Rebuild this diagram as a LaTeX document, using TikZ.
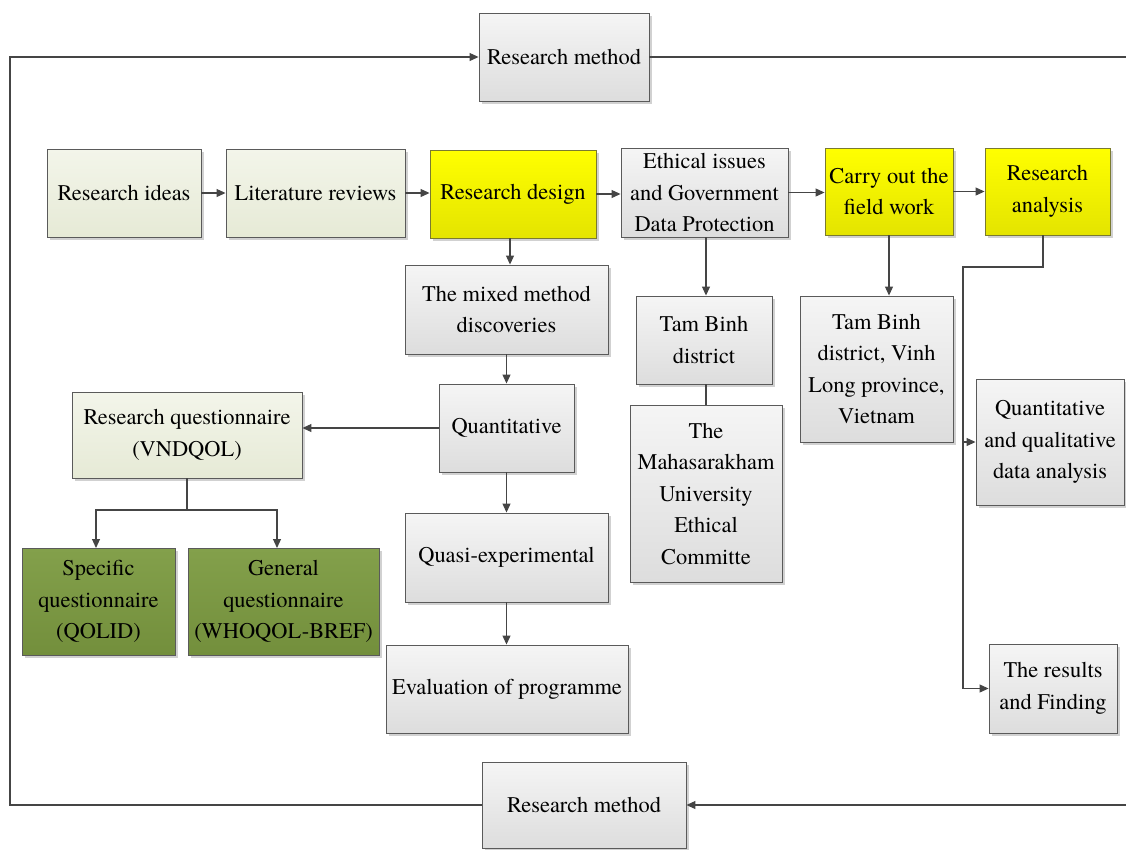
\documentclass[tikz,border=0pt]{standalone}
\usepackage{fontspec}
\setmainfont{TeX Gyre Termes}
\newfontfamily\tnr{TeX Gyre Termes}
\usetikzlibrary{arrows.meta,shadows,calc}
\definecolor{bordc}{HTML}{5A5A5A}
\definecolor{yelbord}{HTML}{7A7A30}
\definecolor{linec}{HTML}{454545}
\definecolor{grayT}{HTML}{F5F5F5}
\definecolor{grayB}{HTML}{DDDDDD}
\definecolor{ltgT}{HTML}{F3F5EA}
\definecolor{ltgB}{HTML}{E6EAD6}
\definecolor{yelT}{HTML}{FFFF00}
\definecolor{yelB}{HTML}{E4E400}
\definecolor{dkgT}{HTML}{83A04B}
\definecolor{dkgB}{HTML}{738F3C}
\tikzset{
  box/.style={draw=bordc, line width=0.9pt, align=center, inner sep=2pt,
    font=\tnr\fontsize{22.4}{31.5}\selectfont,
    drop shadow={shadow xshift=2.5pt, shadow yshift=-2.5pt, fill=black!18, opacity=1}},
  graybox/.style={box, top color=grayT, bottom color=grayB},
  ltgbox/.style={box, top color=ltgT, bottom color=ltgB},
  yelbox/.style={box, draw=yelbord, top color=yelT, bottom color=yelB},
  dkgbox/.style={box, top color=dkgT, bottom color=dkgB},
  conn/.style={draw=linec, line width=1.1pt},
  arr/.style={conn, -{Triangle[width=8pt,length=9pt]}},
}
\begin{document}
\begin{tikzpicture}[x=1pt,y=-1pt]
\useasboundingbox (0,0) rectangle (1126,849);
% top and bottom
\node[graybox, minimum width=170, minimum height=88] (rmtop) at (564,57) {Research method};
\node[graybox, minimum width=204, minimum height=86] (rmbot) at (584,805) {Research method};
% main row
\node[ltgbox, minimum width=154, minimum height=88] (ri) at (124,193) {Research ideas};
\node[ltgbox, minimum width=179, minimum height=88] (lr) at (315.5,193) {Literature reviews};
\node[yelbox, minimum width=166, minimum height=88] (rd) at (513,194) {Research design};
\node[graybox, minimum width=167, minimum height=89] (eth) at (704.5,192.5) {Ethical issues\\and Government\\Data Protection};
\node[yelbox, minimum width=128, minimum height=87] (co) at (889,191.5) {Carry out the\\field work};
\node[yelbox, minimum width=125, minimum height=87] (ra) at (1047.5,191.5) {Research\\analysis};
% column under design
\node[graybox, minimum width=203, minimum height=89] (mm) at (506.5,309.5) {The mixed method\\discoveries};
\node[graybox, minimum width=135, minimum height=88] (qn) at (506.5,428) {Quantitative};
\node[graybox, minimum width=203, minimum height=89] (qe) at (506.5,557.5) {Quasi-experimental};
\node[graybox, minimum width=242, minimum height=88] (ev) at (507,689) {Evaluation of programme};
% questionnaire
\node[ltgbox, minimum width=230, minimum height=86] (rq) at (187,435) {Research questionnaire\\(VNDQOL)};
\node[dkgbox, minimum width=153, minimum height=107] (sp) at (98.5,601.5) {Specific\\questionnaire\\(QOLID)};
\node[dkgbox, minimum width=191, minimum height=107] (ge) at (283.5,601.5) {General\\questionnaire\\(WHOQOL-BREF)};
% ethics column
\node[graybox, minimum width=136, minimum height=88] (tb) at (704,340) {Tam Binh\\district};
\node[graybox, minimum width=152, minimum height=177] (mu) at (706,493.5) {The\\Mahasarakham\\University\\Ethical\\Committe};
% field work column
\node[graybox, minimum width=153, minimum height=146] (tbv) at (876.5,369) {Tam Binh\\district, Vinh\\Long province,\\Vietnam};
% analysis column
\node[graybox, minimum width=148, minimum height=126] (qq) at (1050,442) {Quantitative\\and qualitative\\data analysis};
\node[graybox, minimum width=128, minimum height=89] (rf) at (1053,688.5) {The results\\and Finding};
% frame coordinates
\coordinate (tl) at (10,57);
\coordinate (bl) at (10,805);
\coordinate (tr) at (1126,57);
\coordinate (br) at (1126,805);
\coordinate (bus) at (963,267);
\coordinate (rdS) at (510,238);
\coordinate (ethS) at (706,237);
\coordinate (tbS) at (706,384);
\coordinate (raS) at (1043,235);
\coordinate (rqj) at (187,510);
\coordinate (spN) at (96,548);
\coordinate (geN) at (277,548);
% connectors
\draw[arr] (rmbot.west) -- (bl) -- (tl) -- (rmtop.west);
\draw[conn] (rmtop.east) -- (tr);
\draw[arr] (br) -- (rmbot.east);
\draw[arr] (ri.east) -- (ri.east -| lr.west);
\draw[arr] (lr.east) -- (lr.east -| rd.west);
\draw[arr] (rd.east) -- (rd.east -| eth.west);
\draw[arr] (eth.east) -- (eth.east -| co.west);
\draw[arr] (co.east) -- (co.east -| ra.west);
\draw[arr] (rdS) -- (rdS |- mm.north);
\draw[arr] (mm.south) -- (qn.north);
\draw[arr] (qn.west) -- (qn.west -| rq.east);
\draw[arr] (qn.south) -- (qe.north);
\draw[arr] (qe.south) -- (qe.south |- ev.north);
\draw[conn] (rq.south) -- (rqj);
\draw[arr] (rqj) -| (spN);
\draw[arr] (rqj) -| (geN);
\draw[arr] (ethS) -- (ethS |- tb.north);
\draw[conn] (tbS) -- (tbS |- mu.north);
\draw[arr] (co.south) -- (co.south |- tbv.north);
\draw[arr] (raS) |- (bus) |- (rf.west);
\draw[arr] (bus |- qq.west) -- (qq.west);
\end{tikzpicture}
\end{document}
